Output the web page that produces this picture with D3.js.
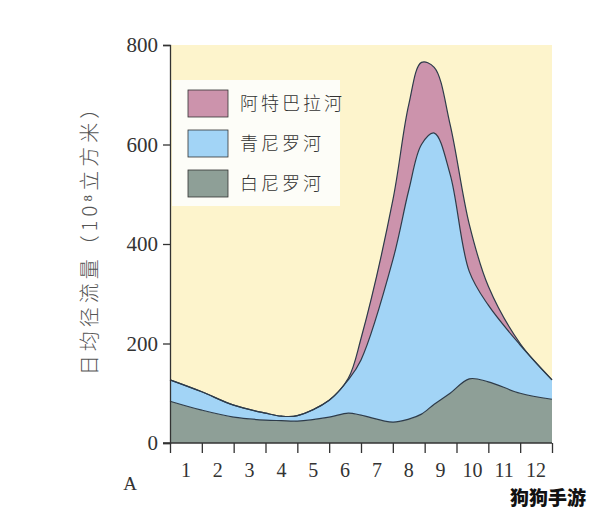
<!DOCTYPE html><html><head><meta charset="utf-8"><script src="https://cdn.jsdelivr.net/npm/d3@7"></script>
<style>body{margin:0;background:#fff}</style></head><body><svg id="c" width="594" height="519"></svg><script>
const xs=[0,1,2,3,3.5,4,5,5.6,6,7,7.5,7.9,8.3,8.8,9.4,10,11,12];
const whiteNile=[84,66,52,46,45,44,52,60,56,42,48,58,78,100,129,123,100,88];
const blueTop=[127,103,76,60,54,55,86,127,167,368,508,600,623,540,345,277,197,127];
const atbaraTop=[127,103,76,60,54,55,86,130,210,488,680,765,755,640,440,315,200,127];
const seriesNames=["阿特巴拉河","青尼罗河","白尼罗河"];
const colors=["#cc93ac","#a2d4f6","#8e9f97"];
const yTicks=[0,200,400,600,800];
const months=["1","2","3","4","5","6","7","8","9","10","11","12"];
const rows=xs.map((x,i)=>({x,white:whiteNile[i],blue:blueTop[i]-whiteNile[i],atbara:atbaraTop[i]-blueTop[i]}));
const stack=d3.stack().keys(["white","blue","atbara"])(rows);
const svg=d3.select("#c");
const x=d3.scaleLinear().domain([0,12]).range([170,552]);
const y=d3.scaleLinear().domain([0,800]).range([443,45]);
svg.append("rect").attr("x",170).attr("y",45).attr("width",382).attr("height",398).attr("fill","#fdf4cc");
const cv=d3.curveCatmullRom.alpha(0.5);
const area=d3.area().x(d=>x(d.data.x)).y0(d=>y(d[0])).y1(d=>y(d[1])).curve(cv);
const line=d3.line().x(d=>x(d.data.x)).y(d=>y(d[1])).curve(cv);
const col={white:colors[2],blue:colors[1],atbara:colors[0]};
stack.forEach(s=>svg.append("path").attr("d",area(s)).attr("fill",col[s.key]));
stack.forEach(s=>svg.append("path").attr("d",line(s)).attr("fill","none").attr("stroke","#2d3b4a").attr("stroke-width",1.2));
const font="'Liberation Serif','DejaVu Serif',serif";
const ya=svg.append("g").attr("transform","translate(170,0)").call(d3.axisLeft(y).tickValues(yTicks).tickSize(7).tickPadding(5));
ya.selectAll("text").attr("font-family",font).attr("font-size",21).attr("fill","#333");
const xa=svg.append("g").attr("transform","translate(0,443)").call(d3.axisBottom(x).ticks(12).tickSize(10).tickFormat(""));
xa.select(".domain").attr("d","M163,0H552");
[ya,xa].forEach(a=>{a.selectAll("line,path").attr("stroke","#333").attr("stroke-width",1.3);});
svg.selectAll(null).data(months).enter().append("text").attr("x",(d,i)=>x(i+0.5)).attr("y",477).attr("text-anchor","middle")
 .attr("font-family",font).attr("font-size",20).attr("fill","#333").text(d=>d);
svg.append("text").attr("x",130).attr("y",490).attr("text-anchor","middle").attr("font-family",font).attr("font-size",19).attr("fill","#333").text("A");
svg.append("text").attr("transform","translate(97,235) rotate(-90)").attr("text-anchor","middle").attr("font-family","'Noto Sans CJK SC'").attr("font-size",20).attr("letter-spacing",4).attr("fill","#555").attr("font-weight",300).text("日均径流量（10⁸立方米）");
svg.append("rect").attr("x",172).attr("y",80).attr("width",168).attr("height",126).attr("fill","#fdfdf8");
seriesNames.forEach((n,i)=>{
 svg.append("rect").attr("x",188).attr("y",90+i*40).attr("width",40).attr("height",27).attr("fill",colors[i]).attr("stroke","#333").attr("stroke-width",0.8);
 svg.append("text").attr("x",240).attr("y",110+i*40).attr("font-family","'Noto Sans CJK SC'").attr("font-size",18).attr("fill","#333").attr("font-weight",300).attr("letter-spacing",3).text(n);
});
svg.append("text").attr("x",548).attr("y",505).attr("text-anchor","middle").attr("font-family","'Noto Sans CJK SC'").attr("font-weight",900).attr("font-size",19).attr("fill","#111").text("狗狗手游");
</script></body></html>
